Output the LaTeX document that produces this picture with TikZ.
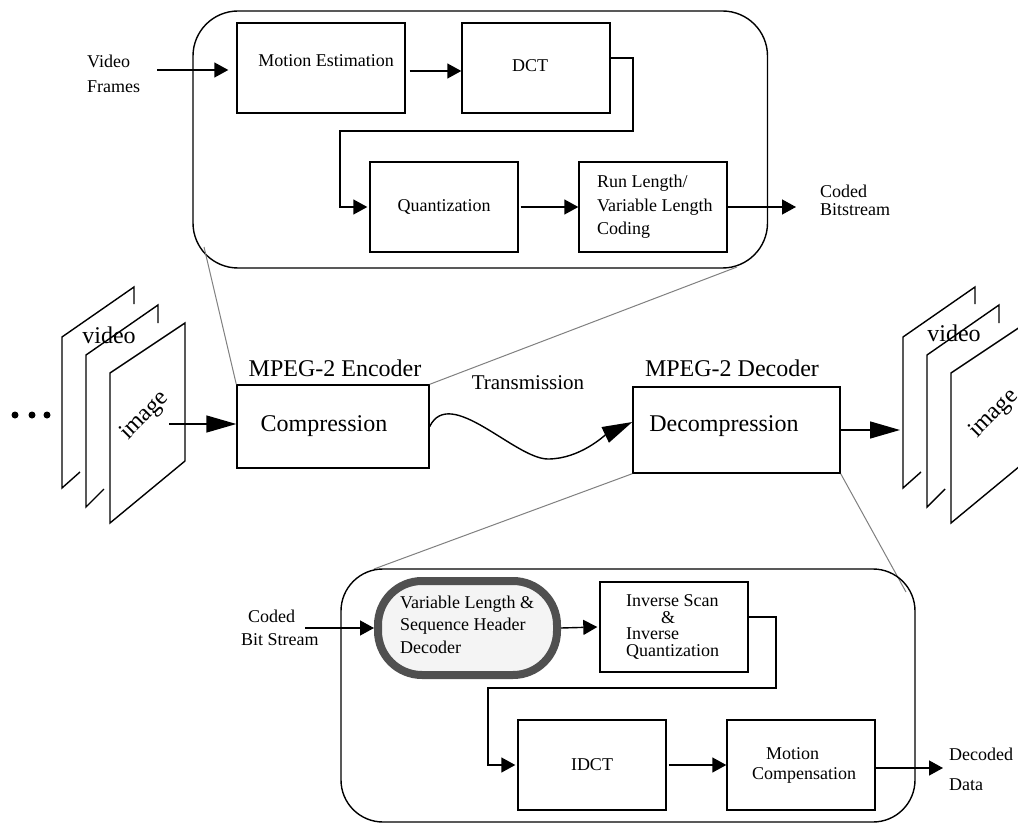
\documentclass[tikz,border=0pt]{standalone}
\usepackage{fontspec}
\setmainfont{Liberation Serif}
\usetikzlibrary{arrows.meta}
\definecolor{vldring}{HTML}{505050}
\definecolor{vldfill}{HTML}{F4F4F4}
\begin{document}
\begin{tikzpicture}[x=1pt,y=-1pt,
  stage/.style={draw, line width=1.4pt, inner sep=0pt, font=\fontsize{18}{21}\selectfont},
  panel/.style={draw, line width=1.4pt, rounded corners=45pt, inner sep=0pt},
  small/.style={inner sep=0pt, font=\fontsize{18}{21}\selectfont},
  big/.style={inner sep=0pt, font=\fontsize{24}{28}\selectfont},
  flow/.style={line width=1.4pt, -{Triangle[length=14pt,width=15pt]}},
  bigflow/.style={line width=1.4pt, -{Triangle[length=30pt,width=17pt]}},
  zoomline/.style={draw=gray, line width=1pt},
  sheet/.style={line width=1.4pt, line join=miter},
]
\useasboundingbox (0,0) rectangle (1018,824);
\fill[white] (0,0) rectangle (1018,824);
\begin{scope}
\clip (0,0) rectangle (1018,824);

% ---------- encoder detail ----------
\node[panel, minimum width=574.5pt, minimum height=257pt] (encpanel) at (480.25,139.5) {};
\node[stage, minimum width=168pt, minimum height=90pt] (me) at (321,68) {};
\node[small] (metext) at (326,61) {Motion Estimation};
\node[stage, minimum width=148pt, minimum height=90pt] (dct) at (536,68) {};
\node[small] (dcttext) at (530,66) {DCT};
\node[stage, minimum width=148pt, minimum height=90pt] (quant) at (444,207) {Quantization};
\node[stage, minimum width=148pt, minimum height=90pt] (rl) at (653,207) {};
\node[small, anchor=west, align=left, font=\fontsize{18}{23.5}\selectfont] (rltext) at (597,207) {Run Length/\\Variable Length\\Coding};
\node[small, anchor=west, align=left, font=\fontsize{18}{25}\selectfont] (vf) at (87,74) {Video\\Frames};
\node[small, anchor=west, align=left, font=\fontsize{18}{18}\selectfont] (cb) at (820,200) {Coded\\Bitstream};
\coordinate (cbtip) at (796,207);

\draw[flow] ([xshift=17pt,yshift=4pt]vf.east) -- ([xshift=-8pt,yshift=-2pt]me.west);
\draw[flow] ([xshift=4pt,yshift=-3pt]me.east) -- ([yshift=-3pt]dct.west);
\draw[flow] ([yshift=10pt]dct.east) -- (633,58) -- (633,131) -- (340,131) |- ([xshift=-2pt]quant.west);
\draw[flow] ([xshift=2pt]quant.east) -- (rl.west);
\draw[flow] (rl.east) -- (cbtip);

% ---------- input frames ----------
\fill (15,415) circle (3.5pt);
\fill (32,415) circle (3.5pt);
\fill (47,415) circle (3.5pt);
\draw[sheet] (80,472) -- (62,488) -- (62,337) -- (134,287) -- (134,304);
\draw[sheet] (104,489) -- (86,507) -- (86,355) -- (158,305) -- (158,323);
\draw[sheet] (110,373) -- (185,323) -- (185,461) -- (110,523) -- cycle;
\node[big] (lvideo) at (109,335) {video};
\node[big, rotate=45] (limage) at (145,416) {image};

% ---------- encoder / channel / decoder ----------
\node[stage, minimum width=192pt, minimum height=83pt] (cmp) at (333,426.5) {};
\node[big] (cmptext) at (324,426) {Compression};
\node[big] (enclabel) at (335,368) {MPEG-2 Encoder};
\coordinate (imgout) at (169,424);
\draw[bigflow] (imgout) -- (imgout -| cmp.west);

\node[inner sep=0pt, font=\fontsize{21}{25}\selectfont] (trans) at (528,383) {Transmission};
\node[stage, minimum width=207pt, minimum height=86pt] (dec) at (736.5,430) {};
\node[big] (dectext) at (724,426) {Decompression};
\node[big] (declabel) at (732,368) {MPEG-2 Decoder};

\draw[bigflow] (cmp.east) .. controls (450,385) and (515,459) .. (548,459)
  .. controls (580,459) and (605,435) .. ([yshift=8pt]dec.west);

\coordinate (encL) at (204,247);
\coordinate (encR) at (737,267);
\draw[zoomline] (encL) -- (cmp.north west);
\draw[zoomline] (cmp.north east) -- (encR);
\coordinate (decL) at (374,569);
\coordinate (decR) at (906,592);
\draw[zoomline] (dec.south west) -- (decL);
\draw[zoomline] (dec.south east) -- (decR);

% ---------- output frames ----------
\coordinate (framein) at (900,430);
\draw[bigflow] (dec.east) -- (framein);
\draw[sheet] (921,472) -- (903,488) -- (903,337) -- (975,287) -- (975,304);
\draw[sheet] (945,489) -- (927,507) -- (927,355) -- (999,305) -- (999,323);
\draw[sheet] (951,373) -- (1026,323) -- (1026,461) -- (951,523) -- cycle;
\node[big] (rvideo) at (954,333) {video};
\node[big, rotate=45] (rimage) at (994,414) {image};

% ---------- decoder detail ----------
\node[panel, rounded corners=42pt, minimum width=574pt, minimum height=253pt] (decpanel) at (628,695.5) {};
\node[draw=vldring, fill=vldfill, line width=8pt, rounded corners=44pt, minimum width=179pt, minimum height=94pt, inner sep=0pt] (vld) at (467.5,628) {};
\node[small, anchor=west, align=left, font=\fontsize{18}{22.5}\selectfont] (vldtext) at (400,624.5) {Variable Length \&\\Sequence Header\\Decoder};
\node[small, anchor=west, align=left, font=\fontsize{18}{23}\selectfont] (cbs) at (241,628) {\hspace*{7pt}Coded\\Bit Stream};
\coordinate (cbsout) at (305,628);
\draw[flow] (cbsout) -- (vld.west);

\node[stage, minimum width=148pt, minimum height=90pt] (isc) at (674,627) {};
\node[small, anchor=west, align=left, font=\fontsize{18}{16.7}\selectfont] (isctext) at (626,627) {Inverse Scan\\\hspace*{35pt}\&\\Inverse\\Quantization};
\draw[flow] (vld.east) -- ([xshift=-2pt]isc.west);

\node[stage, minimum width=148pt, minimum height=90pt] (idct) at (592,765) {IDCT};
\node[stage, minimum width=148pt, minimum height=90pt] (mc) at (801,765) {};
\node[small, anchor=west, align=left, font=\fontsize{18}{20}\selectfont] (mctext) at (752,765) {\hspace*{14pt}Motion\\Compensation};
\draw[flow] ([yshift=10pt]isc.east) -- (776,617) -- (776,688) -- (488,688) |- ([xshift=-2pt]idct.west);
\draw[flow] ([xshift=2pt]idct.east) -- (mc.west);

\coordinate (ddtip) at (943,768);
\draw[flow] ([yshift=-3pt]mc.east) -- (ddtip);
\node[small, anchor=west, align=left, font=\fontsize{18}{30}\selectfont] (dd) at (949,769) {Decoded\\Data};
\end{scope}
\end{tikzpicture}
\end{document}
